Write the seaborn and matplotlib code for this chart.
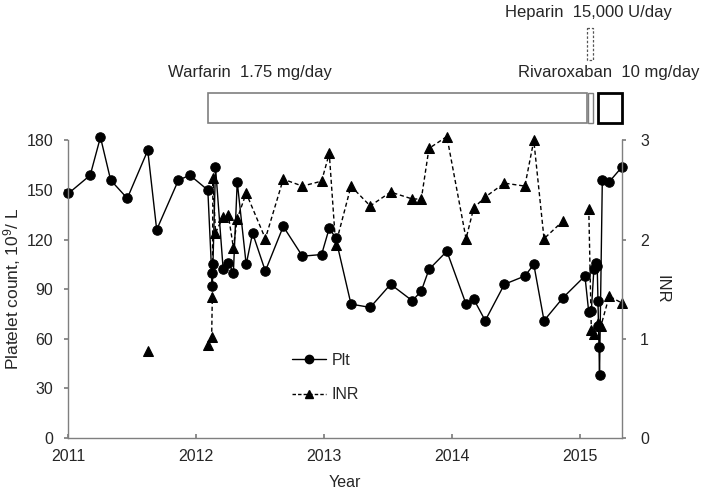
import numpy as np
import pandas as pd
import matplotlib
matplotlib.use("Agg")
import matplotlib.pyplot as plt
import seaborn as sns
from matplotlib.patches import Rectangle
from matplotlib.lines import Line2D

# ---------------- data ----------------
plt_year = [2011.00, 2011.17, 2011.25, 2011.33, 2011.46, 2011.62, 2011.69, 2011.86, 2011.95,
            2012.09, 2012.12, 2012.125, 2012.13, 2012.15, 2012.21, 2012.25, 2012.29, 2012.32,
            2012.39, 2012.44, 2012.54, 2012.68, 2012.83, 2012.98, 2013.04, 2013.09, 2013.21,
            2013.36, 2013.52, 2013.69, 2013.76, 2013.82, 2013.96, 2014.11, 2014.17, 2014.26,
            2014.41, 2014.57, 2014.64, 2014.72, 2014.87, 2015.04, 2015.07, 2015.09, 2015.11,
            2015.13, 2015.136, 2015.142, 2015.146, 2015.150, 2015.154, 2015.176, 2015.23, 2015.33]
plt_count = [148, 159, 182, 156, 145, 174, 126, 156, 159,
             150, 100, 92, 105, 164, 102, 106, 100, 155,
             105, 124, 101, 128, 110, 111, 127, 121, 81,
             79, 93, 83, 89, 102, 113, 81, 84, 71,
             93, 98, 105, 71, 85, 98, 76, 77, 102,
             106, 104, 83, 68, 55, 38, 156, 155, 164]

inr_year = [2011.62,
            2012.09, 2012.12, 2012.125, 2012.13, 2012.15, 2012.21, 2012.25, 2012.29, 2012.32,
            2012.39, 2012.54, 2012.68, 2012.83, 2012.98, 2013.04, 2013.09, 2013.21, 2013.36,
            2013.52, 2013.69, 2013.76, 2013.82, 2013.96, 2014.11, 2014.17, 2014.26, 2014.41,
            2014.57, 2014.64, 2014.72, 2014.87,
            2015.07, 2015.09, 2015.11, 2015.14, 2015.165, 2015.23, 2015.33]
inr_value = [0.88,
             0.94, 1.02, 1.42, 2.62, 2.07, 2.23, 2.25, 1.92, 2.21,
             2.47, 2.01, 2.61, 2.54, 2.59, 2.87, 1.95, 2.54, 2.34,
             2.48, 2.41, 2.41, 2.92, 3.04, 2.01, 2.32, 2.43, 2.57,
             2.54, 3.00, 2.01, 2.19,
             2.31, 1.09, 1.05, 1.16, 1.13, 1.43, 1.36]
inr_segment = [0] + [1] * 31 + [2] * 7

drug_labels = ["Warfarin  1.75 mg/day", "", "Heparin  15,000 U/day", "Rivaroxaban  10 mg/day"]
drug_start = [2012.09, 2015.067, 2015.055, 2015.145]
drug_end = [2015.055, 2015.106, 2015.106, 2015.33]

x_ticks = [2011, 2012, 2013, 2014, 2015]
plt_ticks = [0, 30, 60, 90, 120, 150, 180]
inr_ticks = [0, 1, 2, 3]

df_plt = pd.DataFrame({"year": plt_year, "count": plt_count})
df_inr = pd.DataFrame({"year": inr_year, "inr": inr_value, "seg": inr_segment})

# ---------------- style ----------------
sns.set_theme(style="white")
plt.rcParams["font.family"] = ["Liberation Sans", "DejaVu Sans"]
plt.rcParams["mathtext.fontset"] = "custom"
plt.rcParams["mathtext.rm"] = "Liberation Sans"
plt.rcParams["mathtext.it"] = "Liberation Sans:italic"
FS = 11.5
FS_TOP = 12
GRAY = "#7f7f7f"

fig = plt.figure(figsize=(7.09, 4.94), dpi=100)
ax = fig.add_axes([0.0966, 0.1134, 0.7807, 0.6022])
ax2 = ax.twinx()

sns.lineplot(data=df_plt, x="year", y="count", ax=ax, color="black", marker="o",
             markersize=6.8, markeredgecolor="black", linewidth=1.0,
             estimator=None, sort=False, legend=False, clip_on=False)
sns.lineplot(data=df_inr, x="year", y="inr", units="seg", ax=ax2, color="black",
             marker="^", markersize=7, markeredgecolor="black", linewidth=1.0,
             linestyle=(0, (3, 2)), estimator=None, sort=False, legend=False, clip_on=False)

ax.set_xlim(2011, 2015.33)
ax2.set_xlim(2011, 2015.33)
ax.set_ylim(0, 180)
ax2.set_ylim(0, 3)
ax.set_xticks(x_ticks)
ax.set_xticklabels([str(t) for t in x_ticks])
ax.set_yticks(plt_ticks)
ax2.set_yticks(inr_ticks)

for a in (ax, ax2):
    for s in a.spines.values():
        s.set_color(GRAY)
        s.set_linewidth(1.0)
    a.spines["top"].set_visible(False)
ax.spines["right"].set_visible(False)
ax2.spines["left"].set_visible(False)
ax2.spines["bottom"].set_visible(False)
ax2.spines["right"].set_visible(True)

ax.tick_params(axis="x", direction="in", length=3, color=GRAY, labelsize=FS, pad=8, bottom=True)
ax.tick_params(axis="y", direction="out", length=3, color=GRAY, labelsize=FS, pad=8, left=True)
ax2.tick_params(axis="y", direction="out", length=3, color=GRAY, labelsize=FS, pad=10, right=True)

ax.set_xlabel("Year", fontsize=FS, va="center")
ax.xaxis.set_label_coords(0.5, -0.148)
ax.set_ylabel(r"Platelet count, 10$^{9}$/ L", fontsize=12.5, va="center", ha="center")
ax.yaxis.set_label_coords(-0.102, 0.5)
ax2.set_ylabel("INR", fontsize=12, rotation=270, va="center", ha="center")
ax2.yaxis.set_label_coords(1.072, 0.5)

handles = [
    Line2D([], [], color="black", marker="o", markersize=6, linewidth=1.0),
    Line2D([], [], color="black", marker="^", markersize=6, linewidth=1.0, linestyle=(0, (2.5, 1.5))),
]
ax2.legend(handles, ["Plt", "INR"], loc="upper left", bbox_to_anchor=(292 / 709, 1 - 353 / 494),
           bbox_transform=fig.transFigure, frameon=False, fontsize=FS, handlelength=2.1,
           handletextpad=0.4, labelspacing=1.2, borderpad=0, borderaxespad=0)

# ---------------- drug bars ----------------
axd = fig.add_axes([0.0966, 0.0, 0.7807, 1.0])
axd.set_xlim(2011, 2015.33)
axd.set_ylim(494, 0)
axd.axis("off")
axd.patch.set_alpha(0)
box_y = [92.7, 92.7, 28.3, 92.7]
box_h = [30.6, 30.6, 31.7, 30.6]
box_style = [
    dict(edgecolor=GRAY, linewidth=1.2, linestyle="-"),
    dict(edgecolor=GRAY, linewidth=1.0, linestyle="-"),
    dict(edgecolor="#555555", linewidth=0.9, linestyle=(0, (2, 1.5))),
    dict(edgecolor="black", linewidth=2.0, linestyle="-"),
]
for s, e, y, h, st in zip(drug_start, drug_end, box_y, box_h, box_style):
    axd.add_patch(Rectangle((s, y), e - s, h, facecolor="none", clip_on=False, **st))

fig.text(168 / 709, 1 - 72 / 494, drug_labels[0], fontsize=FS_TOP, ha="left", va="center")
fig.text(518 / 709, 1 - 72 / 494, drug_labels[3], fontsize=FS_TOP, ha="left", va="center")
fig.text(505 / 709, 1 - 12 / 494, drug_labels[2], fontsize=FS_TOP, ha="left", va="center")

fig.savefig("out.png", dpi=100)
